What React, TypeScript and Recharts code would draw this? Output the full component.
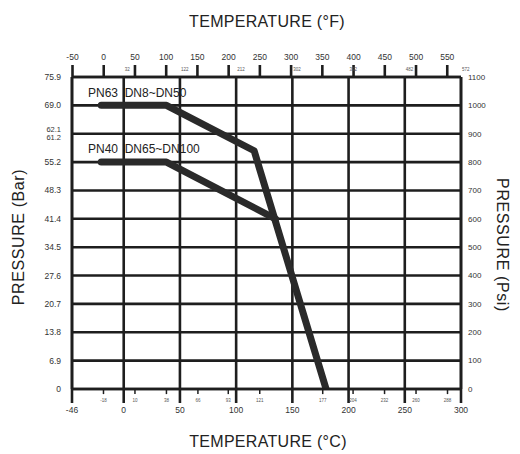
import React from 'react';
import { ComposedChart, Line, XAxis, YAxis, CartesianGrid, ReferenceLine, ReferenceDot } from 'recharts';

// Temperature scale (°C) ticks on the bottom axis
const celsiusTicks = [-46, 0, 50, 100, 150, 200, 250, 300];
// Temperature scale (°F) ticks on the top axis
const fahrenheitTicks = [-50, 0, 50, 100, 150, 200, 250, 300, 350, 400, 450, 500, 550];
// Pressure ticks (psi) on the right axis
const psiTicks = [0, 100, 200, 300, 400, 500, 600, 700, 800, 900, 1000, 1100];
// Matching bar labels on the left axis
const barTickLabels = [['0'], ['6.9'], ['13.8'], ['20.7'], ['27.6'], ['34.5'], ['41.4'], ['48.3'], ['55.2'], ['62.1', '61.2'], ['69.0'], ['75.9']];

// Small conversion labels
const topMinorCelsius = [0, 50, 100, 150, 200, 250, 300];
const topMinorLabels = ['32', '122', '212', '302', '392', '482', '572'];
const bottomMinorCelsius = [-18, 10, 38, 66, 93, 121, 177, 204, 232, 260, 288];
const bottomMinorLabels = ['-18', '10', '38', '66', '93', '121', '177', '204', '232', '260', '288'];

// Series: PN63 DN8~DN50
const pn63Temps = [-20, 38, 116, 180];
const pn63Psi = [1000, 1000, 840, 0];
// Series: PN40 DN65~DN100
const pn40Temps = [-20, 38, 135];
const pn40Psi = [800, 800, 600];

const cDomain: [number, number] = [-46, 300];
const psiDomain: [number, number] = [0, 1100];
const cToF = (c: number) => c * 1.8 + 32;
const fDomain: [number, number] = [cToF(cDomain[0]), cToF(cDomain[1])];

const pn63Data = pn63Temps.map((t, i) => ({ t, p: pn63Psi[i] }));
const pn40Data = pn40Temps.map((t, i) => ({ t, p: pn40Psi[i] }));
// same curve expressed in °F / psi, used only to bind the top and right axes
const pn63DataF = pn63Temps.map((t, i) => ({ tf: cToF(t), p: pn63Psi[i] }));

const FONT = '"Liberation Sans", Arial, sans-serif';
const INK = '#1e1e1e';
const LINE = '#2a2a2a';
const TICK_FILL = '#333';

const LeftTick = (props: any) => {
  const { x, y, payload } = props;
  const idx = psiTicks.indexOf(payload.value);
  const lines = barTickLabels[idx] || [];
  if (lines.length === 2) {
    return (
      <g>
        <text x={x} y={y - 3.8} textAnchor="end" dominantBaseline="central" fontSize={7.5} fill={TICK_FILL} fontFamily={FONT}>{lines[0]}</text>
        <text x={x} y={y + 3.8} textAnchor="end" dominantBaseline="central" fontSize={7.5} fill={TICK_FILL} fontFamily={FONT}>{lines[1]}</text>
      </g>
    );
  }
  return (
    <text x={x} y={y} textAnchor="end" dominantBaseline="central" fontSize={8.5} fill={TICK_FILL} fontFamily={FONT}>{lines[0]}</text>
  );
};

const tinyStyle = { fontSize: 4.5, fill: '#555', fontFamily: FONT };

export default function App() {
  return (
    <div style={{ position: 'relative', width: 504, height: 446, fontFamily: FONT }}>
      <ComposedChart
        width={504}
        height={446}
        margin={{ top: 39, right: 15, bottom: 35, left: 24 }}
      >
        <CartesianGrid stroke={INK} strokeWidth={2.6} />
        <XAxis
          type="number"
          dataKey="t"
          domain={cDomain}
          ticks={celsiusTicks}
          allowDataOverflow
          height={30}
          tickSize={14}
          tickMargin={4}
          axisLine={{ stroke: INK, strokeWidth: 2.6 }}
          tickLine={{ stroke: INK, strokeWidth: 2.6 }}
          tick={{ fontSize: 8.5, fill: TICK_FILL, fontFamily: FONT }}
          interval={0}
        />
        <XAxis
          xAxisId="f"
          orientation="top"
          type="number"
          dataKey="tf"
          domain={fDomain}
          ticks={fahrenheitTicks}
          allowDataOverflow
          height={30}
          tickSize={12}
          tickMargin={5}
          axisLine={{ stroke: INK, strokeWidth: 2.6 }}
          tickLine={{ stroke: INK, strokeWidth: 2.6 }}
          tick={{ fontSize: 8.5, fill: TICK_FILL, fontFamily: FONT }}
          interval={0}
        />
        <YAxis
          type="number"
          domain={psiDomain}
          ticks={psiTicks}
          allowDataOverflow
          width={40}
          tickSize={5}
          tickMargin={6}
          tickLine={false}
          axisLine={{ stroke: INK, strokeWidth: 2.6 }}
          tick={<LeftTick />}
          interval={0}
        />
        <YAxis
          yAxisId="r"
          orientation="right"
          type="number"
          domain={psiDomain}
          ticks={psiTicks}
          allowDataOverflow
          width={36}
          tickSize={3}
          tickMargin={4}
          tickLine={false}
          axisLine={{ stroke: INK, strokeWidth: 2.6 }}
          tick={{ fontSize: 8, fill: TICK_FILL, fontFamily: FONT }}
          interval={0}
        />

        {topMinorCelsius.map((c, i) => (
          <ReferenceDot
            key={'tm' + c}
            x={c}
            y={1128}
            r={0}
            fill="none"
            stroke="none"
            ifOverflow="visible"
            label={{ value: topMinorLabels[i], position: 'right', offset: 1, ...tinyStyle }}
          />
        ))}
        {bottomMinorCelsius.map((c) => (
          <ReferenceLine
            key={'bt' + c}
            segment={[{ x: c, y: 0 }, { x: c, y: -18 }]}
            stroke={INK}
            strokeWidth={1.5}
            ifOverflow="visible"
          />
        ))}
        {bottomMinorCelsius.map((c, i) => (
          <ReferenceDot
            key={'bm' + c}
            x={c}
            y={-40}
            r={0}
            fill="none"
            stroke="none"
            ifOverflow="visible"
            label={{ value: bottomMinorLabels[i], position: 'center', ...tinyStyle }}
          />
        ))}

        <Line
          xAxisId="f"
          yAxisId="r"
          data={pn63DataF}
          dataKey="p"
          type="linear"
          stroke="none"
          strokeWidth={0}
          dot={false}
          activeDot={false}
          legendType="none"
          isAnimationActive={false}
        />
        <Line
          data={pn63Data}
          dataKey="p"
          type="linear"
          stroke={LINE}
          strokeWidth={7}
          strokeLinecap="round"
          strokeLinejoin="round"
          dot={false}
          activeDot={false}
          isAnimationActive={false}
        />
        <Line
          data={pn40Data}
          dataKey="p"
          type="linear"
          stroke={LINE}
          strokeWidth={7}
          strokeLinecap="round"
          strokeLinejoin="round"
          dot={false}
          activeDot={false}
          isAnimationActive={false}
        />
      </ComposedChart>

      <div style={{ position: 'absolute', left: 259, top: 14, transform: 'translate(-50%, -50%)', fontSize: 16, color: '#222', whiteSpace: 'nowrap', letterSpacing: 0.3 }}>
        TEMPERATURE (°F)
      </div>
      <div style={{ position: 'absolute', left: 260, top: 434, transform: 'translate(-50%, -50%)', fontSize: 16, color: '#222', whiteSpace: 'nowrap', letterSpacing: 0.3 }}>
        TEMPERATURE (°C)
      </div>
      <div style={{ position: 'absolute', left: 11, top: 229, transform: 'translate(-50%, -50%) rotate(-90deg)', fontSize: 16, color: '#222', whiteSpace: 'nowrap', letterSpacing: 0.6 }}>
        PRESSURE (Bar)
      </div>
      <div style={{ position: 'absolute', left: 494, top: 237, transform: 'translate(-50%, -50%) rotate(90deg)', fontSize: 16, color: '#222', whiteSpace: 'nowrap', letterSpacing: 0.6 }}>
        PRESSURE (Psi)
      </div>
      <div style={{ position: 'absolute', left: 80, top: 85, transform: 'translateY(-50%)', fontSize: 12, color: '#222', whiteSpace: 'pre', lineHeight: 1 }}>
        {'PN63  DN8~DN50'}
      </div>
      <div style={{ position: 'absolute', left: 80, top: 140.5, transform: 'translateY(-50%)', fontSize: 12, color: '#222', whiteSpace: 'pre', lineHeight: 1 }}>
        {'PN40  DN65~DN100'}
      </div>
    </div>
  );
}
